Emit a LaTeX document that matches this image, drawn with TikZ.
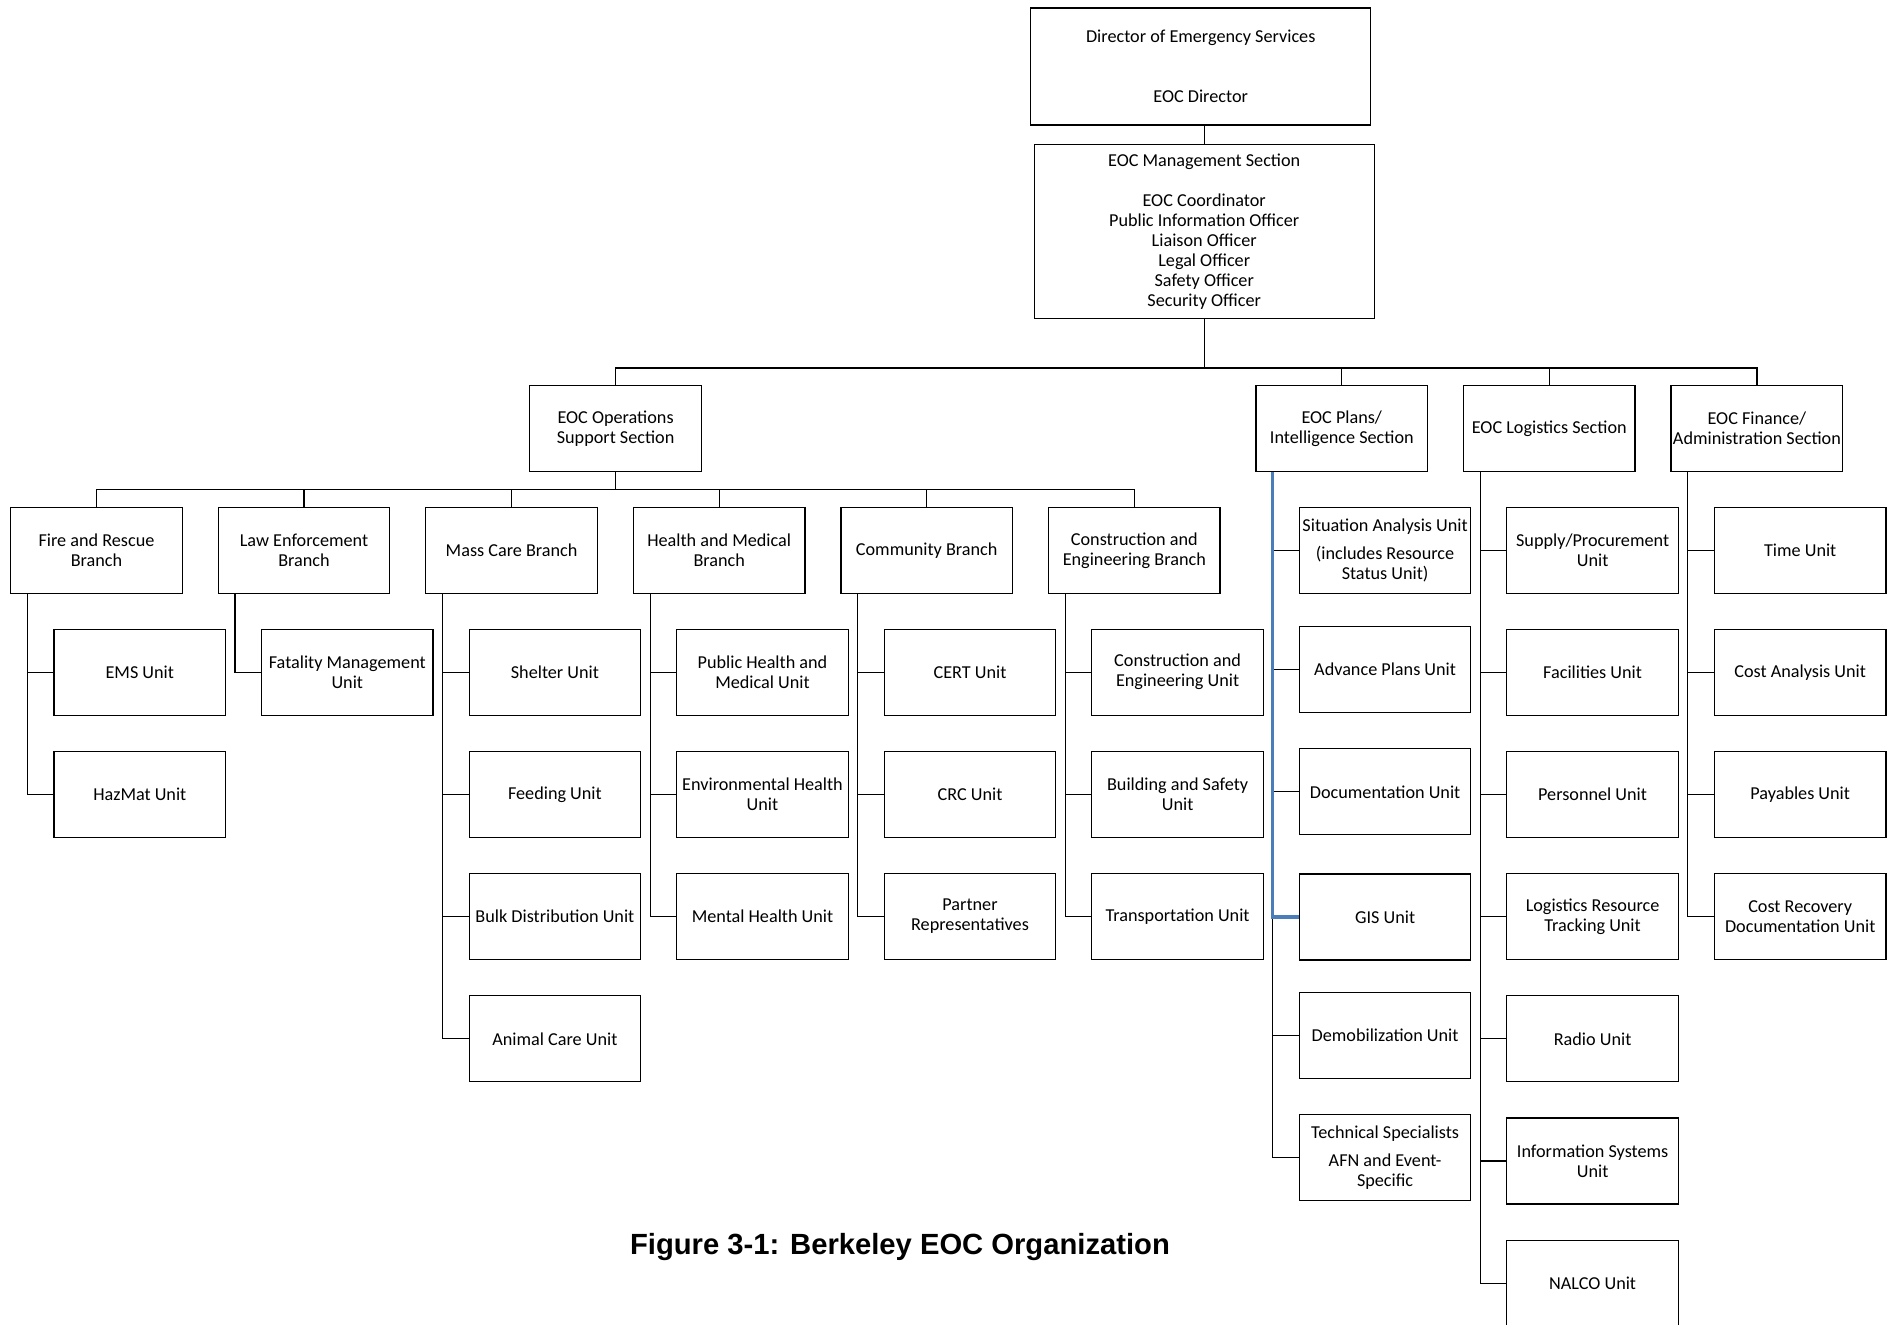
\documentclass[tikz,border=0pt]{standalone}
\usepackage{fontspec}
\setmainfont{Carlito}
\newfontfamily\captionfont{Liberation Sans}
\usetikzlibrary{positioning,calc}

\definecolor{gisblue}{RGB}{74,126,187}

\tikzset{
  orgbox/.style={draw,line width=0.6pt,align=center,inner sep=1pt,
    minimum width=85.75pt,minimum height=43pt,
    font=\fontsize{9.1}{10}\selectfont},
  topbox/.style={orgbox,minimum width=170pt},
  link/.style={line width=0.6pt},
  gislink/.style={line width=1.6pt,draw=gisblue},
}

\begin{document}
\begin{tikzpicture}[x=0.5pt,y=-0.5pt]

\clip (0,0) rectangle (1891,1325);

% top of the tree
\node [topbox,minimum height=58.5pt] at (1200.7,66.5) (director) {Director of Emergency Services\\[20pt]EOC Director};
\node [topbox,minimum height=87pt] at (1204.2,231.3) (mgmt) {EOC Management Section\\[10pt]EOC Coordinator\\Public Information Officer\\Liaison Officer\\Legal Officer\\Safety Officer\\Security Officer};

% sections
\node [orgbox] at (615.6,428.5)  (ops)   {EOC Operations\\Support Section};
\node [orgbox] at (1341.8,428.5) (plans) {EOC Plans/\\Intelligence Section};
\node [orgbox] at (1549.3,428.5) (logis) {EOC Logistics Section};
\node [orgbox] at (1756.9,428.5) (fin)   {EOC Finance/\\Administration Section};

% branches
\node [orgbox] at (96.5,550.3)   (fire)   {Fire and Rescue\\Branch};
\node [orgbox] at (304.0,550.3)  (law)    {Law Enforcement\\Branch};
\node [orgbox] at (511.6,550.3)  (mass)   {Mass Care Branch};
\node [orgbox] at (719.2,550.3)  (health) {Health and Medical\\Branch};
\node [orgbox] at (926.7,550.3)  (comm)   {Community Branch};
\node [orgbox] at (1134.3,550.3) (constr) {Construction and\\Engineering Branch};

% units of the branches
\node [orgbox] at (139.8,672.2) (ems)    {EMS Unit};
\node [orgbox] at (139.8,794.4) (hazmat) {HazMat Unit};
\node [orgbox] at (347.3,672.2) (fatal)  {Fatality Management\\Unit};
\node [orgbox] at (554.9,672.2)  (shelter) {Shelter Unit};
\node [orgbox] at (554.9,794.4)  (feeding) {Feeding Unit};
\node [orgbox] at (554.9,916.6)  (bulk)    {Bulk Distribution Unit};
\node [orgbox] at (554.9,1038.8) (animal)  {Animal Care Unit};
\node [orgbox] at (762.5,672.2) (pubhealth) {Public Health and\\Medical Unit};
\node [orgbox] at (762.5,794.4) (envhealth) {Environmental Health\\Unit};
\node [orgbox] at (762.5,916.6) (mental)    {Mental Health Unit};
\node [orgbox] at (970.0,672.2) (cert)    {CERT Unit};
\node [orgbox] at (970.0,794.4) (crc)     {CRC Unit};
\node [orgbox] at (970.0,916.6) (partner) {Partner\\Representatives};
\node [orgbox] at (1177.6,672.2) (ceunit)    {Construction and\\Engineering Unit};
\node [orgbox] at (1177.6,794.4) (building)  {Building and Safety\\Unit};
\node [orgbox] at (1177.6,916.6) (transport) {Transportation Unit};

% plans units
\node [orgbox] at (1385.1,550.5)  (situation) {Situation Analysis Unit\\[4.2pt](includes Resource\\Status Unit)};
\node [orgbox] at (1385.1,669.7)  (advance)   {Advance Plans Unit};
\node [orgbox] at (1385.1,791.8)  (docu)      {Documentation Unit};
\node [orgbox] at (1385.1,917.0)  (gis)       {GIS Unit};
\node [orgbox] at (1385.1,1035.5) (demob)     {Demobilization Unit};
\node [orgbox] at (1385.1,1157.7) (techspec)  {Technical Specialists\\[4.2pt]AFN and Event-\\Specific};

% logistics units
\node [orgbox] at (1592.6,550.3)  (supply)     {Supply/Procurement\\Unit};
\node [orgbox] at (1592.6,672.2)  (facilities) {Facilities Unit};
\node [orgbox] at (1592.6,794.4)  (personnel)  {Personnel Unit};
\node [orgbox] at (1592.6,916.6)  (tracking)   {Logistics Resource\\Tracking Unit};
\node [orgbox] at (1592.6,1038.8) (radio)      {Radio Unit};
\node [orgbox] at (1592.6,1161.0) (infosys)    {Information Systems\\Unit};
\node [orgbox] at (1592.6,1283.2) (nalco)      {NALCO Unit};

% finance units
\node [orgbox] at (1800.2,550.3) (time)     {Time Unit};
\node [orgbox] at (1800.2,672.2) (costan)   {Cost Analysis Unit};
\node [orgbox] at (1800.2,794.4) (payables) {Payables Unit};
\node [orgbox] at (1800.2,916.6) (recovery) {Cost Recovery\\Documentation Unit};

% buses
\coordinate (mbus) at (1204.2,368);
\coordinate (obus) at (615.6,489.6);

\draw[link] (mgmt.north) -- (mgmt.north |- director.south);
\foreach \s in {ops,plans,logis,fin}
  \draw[link] (mgmt.south) -- (mbus) -| (\s.north);
\foreach \b in {fire,law,mass,health,comm,constr}
  \draw[link] (ops.south) -- (obus) -| (\b.north);

\foreach \b/\u in {fire/ems,fire/hazmat,law/fatal,
    mass/shelter,mass/feeding,mass/bulk,mass/animal,
    health/pubhealth,health/envhealth,health/mental,
    comm/cert,comm/crc,comm/partner,
    constr/ceunit,constr/building,constr/transport,
    plans/situation,plans/advance,plans/docu,plans/gis,plans/demob,plans/techspec,
    logis/supply,logis/facilities,logis/personnel,logis/tracking,logis/radio,logis/infosys,logis/nalco,
    fin/time,fin/costan,fin/payables,fin/recovery}
  \draw[link] ([xshift=8.7pt]\b.south west) |- (\u.west);

\draw[gislink] ([xshift=8.4pt]plans.south west) |- (gis.west);

% caption
\node [font=\captionfont\bfseries\fontsize{14.6}{16}\selectfont] at (900,1247) (caption) {Figure 3-1: Berkeley EOC Organization};

\end{tikzpicture}
\end{document}
